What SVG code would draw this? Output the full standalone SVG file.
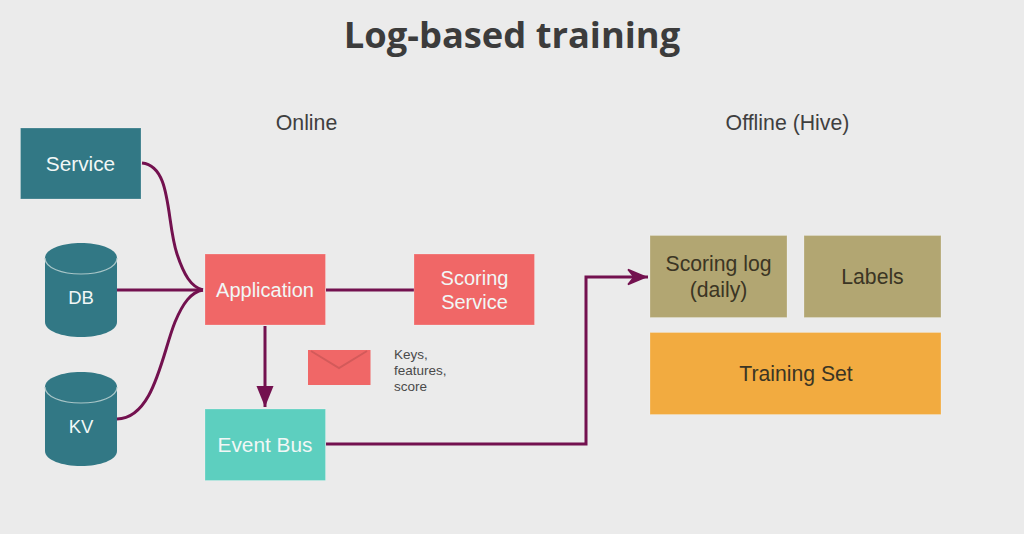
<svg xmlns="http://www.w3.org/2000/svg" width="1024" height="534" viewBox="0 0 1024 534">
  <style>
    text { font-family: "Liberation Sans", Arial, sans-serif; text-anchor: middle; }
    .title { font-family: "Open Sans", "Liberation Sans", sans-serif; font-size: 36.300px; font-weight: 700; fill: #3c3c3c; }
    .heading { font-size: 21.300px; fill: #3f3f3f; }
    .light { font-size: 20.800px; fill: #f1f7f6; }
    .tight { font-size: 20px; fill: #f1f7f6; }
    .small { font-size: 18.500px; fill: #f1f7f6; }
    .dark { font-size: 21.200px; fill: #3b3524; }
    .note { font-size: 13.500px; fill: #4a4a4a; text-anchor: start; }
    .box { stroke: #ffffff; stroke-opacity: .22; stroke-width: 1; }
    .teal { fill: #327885; }
    .coral { fill: #f06767; }
    .mint { fill: #5dcfbf; }
    .olive { fill: #b2a672; }
    .amber { fill: #f2ab40; }
    .link { fill: none; stroke: #73114f; stroke-width: 3; }
    .rim { fill: none; stroke: #a9c6c8; stroke-width: 1.2; }
  </style>
  <defs>
    <marker id="solid" markerUnits="userSpaceOnUse" markerWidth="24" markerHeight="20" refX="21" refY="9.500" orient="auto">
      <path d="M0 1 L21 9.500 L0 18 Z" fill="#73114f"/>
    </marker>
    <marker id="open" markerUnits="userSpaceOnUse" markerWidth="24" markerHeight="22" refX="21" refY="9" orient="auto">
      <path d="M1 1.500 L19 9 L1 16.500 L7 9 Z" fill="#73114f" stroke="#73114f" stroke-width="1.500"/>
    </marker>
  </defs>
  <rect width="1024" height="534" fill="#ebebeb"/>

  <text class="title" x="512" y="48">Log-based training</text>
  <text class="heading" x="306.500" y="129.500">Online</text>
  <text class="heading" x="787.500" y="129.500">Offline (Hive)</text>

  <g id="connectors">
    <path class="link" d="M142 163 C172 166 166 221 177 254 C184 275 191 287 203 290"/>
    <path class="link" d="M117 290 H203"/>
    <path class="link" d="M117 419 C154 418 162 354 175 322 C183 303 191 292 203 290"/>
    <path class="link" d="M326 290 H414"/>
    <path class="link" d="M265 326 V407" marker-end="url(#solid)"/>
    <path class="link" d="M326 444 H586 V277 H648" marker-end="url(#open)"/>
  </g>

  <g id="service">
    <rect class="box teal" x="20.500" y="128" width="120.500" height="71"/>
    <text class="light" x="80.500" y="171">Service</text>
  </g>
  <g id="db">
    <path class="teal" d="M45 258 C45 249 62 243 81 243 C100 243 117 249 117 258 V322 C117 331 100 337 81 337 C62 337 45 331 45 322 Z"/>
    <path class="rim" d="M45 258 C45 268 62 274 81 274 C100 274 117 268 117 258"/>
    <text class="small" x="81" y="304">DB</text>
  </g>
  <g id="kv">
    <path class="teal" d="M45 387 C45 378 62 372 81 372 C100 372 117 378 117 387 V451 C117 460 100 466 81 466 C62 466 45 460 45 451 Z"/>
    <path class="rim" d="M45 387 C45 397 62 403 81 403 C100 403 117 397 117 387"/>
    <text class="small" x="81" y="433">KV</text>
  </g>
  <g id="application">
    <rect class="box coral" x="205" y="254" width="120.500" height="71"/>
    <text class="tight" x="265" y="297">Application</text>
  </g>
  <g id="scoring-service">
    <rect class="box coral" x="414" y="254" width="120.500" height="71"/>
    <text class="tight" x="474.500" y="285">Scoring</text>
    <text class="tight" x="474.500" y="309">Service</text>
  </g>
  <g id="event-bus">
    <rect class="box mint" x="205" y="409" width="120.500" height="71.500"/>
    <text class="light" x="265" y="452">Event Bus</text>
  </g>
  <g id="message">
    <rect x="308" y="350" width="62.500" height="35" fill="#f06767"/>
    <path d="M311 351 L339 368 L367 351" fill="none" stroke="#d35a5a" stroke-width="2"/>
    <text class="note" x="394" y="359">Keys,</text>
    <text class="note" x="394" y="375">features,</text>
    <text class="note" x="394" y="391">score</text>
  </g>
  <g id="scoring-log">
    <rect class="box olive" x="650" y="235.500" width="137" height="82"/>
    <text class="dark" x="718.500" y="271">Scoring log</text>
    <text class="dark" x="718.500" y="297">(daily)</text>
  </g>
  <g id="labels">
    <rect class="box olive" x="804" y="235.500" width="137" height="82"/>
    <text class="dark" x="872.500" y="284">Labels</text>
  </g>
  <g id="training-set">
    <rect class="box amber" x="650" y="332.500" width="291" height="82"/>
    <text class="dark" x="796" y="381">Training Set</text>
  </g>
</svg>
